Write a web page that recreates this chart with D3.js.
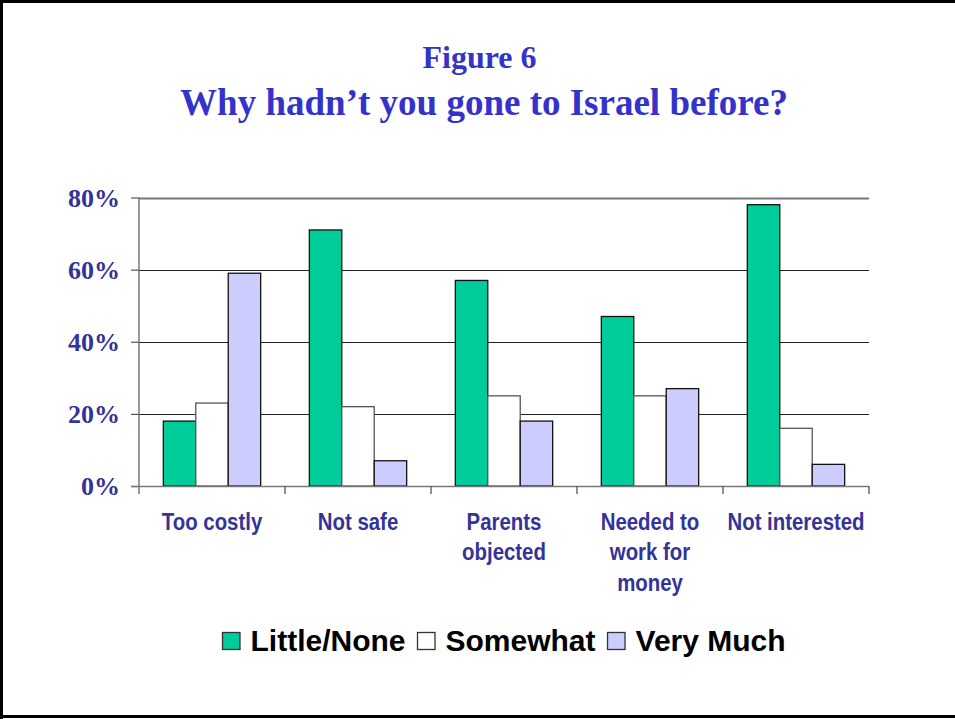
<!DOCTYPE html>
<html>
<head>
<meta charset="utf-8">
<script src="https://cdn.jsdelivr.net/npm/d3@7"></script>
<style>
  html, body { margin: 0; padding: 0; background: #fff; }
  svg { display: block; }
</style>
</head>
<body>
<script>
// Survey responses: how much each reason kept respondents from going to Israel
const categories = [
  ["Too costly"],
  ["Not safe"],
  ["Parents", "objected"],
  ["Needed to", "work for", "money"],
  ["Not interested"]
];
const seriesNames = ["Little/None", "Somewhat", "Very Much"];
const littleNone = [18, 71, 57, 47, 78];
const somewhat   = [23, 22, 25, 25, 16];
const veryMuch   = [59, 7, 18, 27, 6];
const yTicks = [0, 20, 40, 60, 80];

const seriesValues = [littleNone, somewhat, veryMuch];
const colors = ["#00cc99", "#ffffff", "#ccccff"];

const W = 955, H = 719;
const svg = d3.select("body").append("svg").attr("width", W).attr("height", H);

// Frame: left, top and bottom edges
svg.append("path")
  .attr("d", `M1.5,${H} V1.5 H${W}`)
  .attr("fill", "none").attr("stroke", "#000").attr("stroke-width", 3);
svg.append("line")
  .attr("x1", 0).attr("x2", W).attr("y1", 716.5).attr("y2", 716.5)
  .attr("stroke", "#000").attr("stroke-width", 3);

// Titles
svg.append("text").attr("x", 479.5).attr("y", 68)
  .attr("text-anchor", "middle")
  .attr("font-family", "'Liberation Serif', 'Times New Roman', serif")
  .attr("font-weight", "bold").attr("font-size", 32).attr("fill", "#3333cc")
  .text("Figure 6");
svg.append("text").attr("x", 484).attr("y", 115)
  .attr("text-anchor", "middle")
  .attr("font-family", "'Liberation Serif', 'Times New Roman', serif")
  .attr("font-weight", "bold").attr("font-size", 37).attr("fill", "#3333cc")
  .text("Why hadn\u2019t you gone to Israel before?");

// Plot area
const plotLeft = 139, plotRight = 869, plotTop = 197.5, plotBottom = 486;
const keys = categories.map((c, i) => i);
const x0 = d3.scaleBand().domain(keys).range([plotLeft, plotRight]).paddingInner(0).paddingOuter(0);
const x1 = d3.scaleBand().domain(d3.range(seriesNames.length))
  .range([0, x0.bandwidth()]).paddingOuter(0.75).paddingInner(0);
const y = d3.scaleLinear().domain([0, 80]).range([plotBottom, plotTop]);

// Gridlines
svg.append("g").selectAll("line").data(yTicks.filter(d => d > 0)).join("line")
  .attr("x1", plotLeft).attr("x2", plotRight)
  .attr("y1", d => Math.round(y(d)) + 0.5).attr("y2", d => Math.round(y(d)) + 0.5)
  .attr("stroke", d => d === 80 ? "#777" : "#222").attr("stroke-width", d => d === 80 ? 2 : 1.2);

// Bars
const groups = svg.append("g").selectAll("g").data(keys).join("g")
  .attr("transform", i => `translate(${x0(i)},0)`);
groups.selectAll("rect")
  .data(i => seriesValues.map((vals, s) => ({ s, v: vals[i] })))
  .join("rect")
  .attr("x", d => x1(d.s))
  .attr("width", x1.bandwidth())
  .attr("y", d => y(d.v))
  .attr("height", d => y(0) - y(d.v))
  .attr("fill", d => colors[d.s])
  .attr("stroke", d => d.s === 1 ? "#555" : "#111")
  .attr("stroke-width", 1.3);

// Y axis
const yAxis = d3.axisLeft(y).tickValues(yTicks).tickSize(8).tickFormat(d => d + "%");
const gy = svg.append("g").attr("transform", `translate(${plotLeft},0)`).call(yAxis);
gy.select(".domain").attr("stroke", "#777").attr("stroke-width", 1.5)
  .attr("d", `M0,${plotTop}V${plotBottom + 8}`);
gy.selectAll(".tick line").attr("stroke", "#555").attr("stroke-width", 1.2);
gy.selectAll(".tick text")
  .attr("x", -19).attr("dy", "0.34em")
  .attr("font-family", "'Liberation Serif', 'Times New Roman', serif")
  .attr("font-weight", "bold").attr("font-size", 26).attr("fill", "#333399");

// X axis with boundary ticks between categories
const gx = svg.append("g").attr("transform", `translate(0,${plotBottom})`);
gx.append("line").attr("x1", plotLeft - 8).attr("x2", plotRight).attr("y1", 0.5).attr("y2", 0.5)
  .attr("stroke", "#777").attr("stroke-width", 1.5);
gx.selectAll("line.tick").data(keys.slice(1).concat([keys.length])).join("line")
  .attr("class", "tick")
  .attr("x1", i => i < keys.length ? x0(i) : plotRight)
  .attr("x2", i => i < keys.length ? x0(i) : plotRight)
  .attr("y1", 0).attr("y2", 8)
  .attr("stroke", "#555").attr("stroke-width", 1.3);

// Category labels, drawn in a narrowed bold sans
gx.selectAll("text").data(keys).join("text")
  .attr("transform", i => `translate(${x0(i) + x0.bandwidth() / 2},44) scale(0.85,1)`)
  .attr("text-anchor", "middle")
  .attr("font-family", "'Liberation Sans', Arial, sans-serif")
  .attr("font-weight", "bold").attr("font-size", 24).attr("fill", "#333399")
  .each(function(i) {
    const t = d3.select(this);
    categories[i].forEach((line, k) => {
      t.append("tspan").attr("x", 0)
        .attr("dy", k === 0 ? 0 : 30.5).text(line);
    });
  });

// Legend
const legend = svg.append("g");
let lx = 222.5;
seriesNames.forEach((name, s) => {
  legend.append("rect").attr("x", lx).attr("y", 632.5).attr("width", 17.5).attr("height", 17)
    .attr("fill", colors[s]).attr("stroke", "#333").attr("stroke-width", 1.3);
  const t = legend.append("text").attr("x", lx + 28).attr("y", 651)
    .attr("font-family", "'Liberation Sans', Arial, sans-serif")
    .attr("font-weight", "bold").attr("font-size", 30).attr("fill", "#000")
    .text(name);
  lx += 28 + t.node().getComputedTextLength() + 12;
});
</script>
</body>
</html>
